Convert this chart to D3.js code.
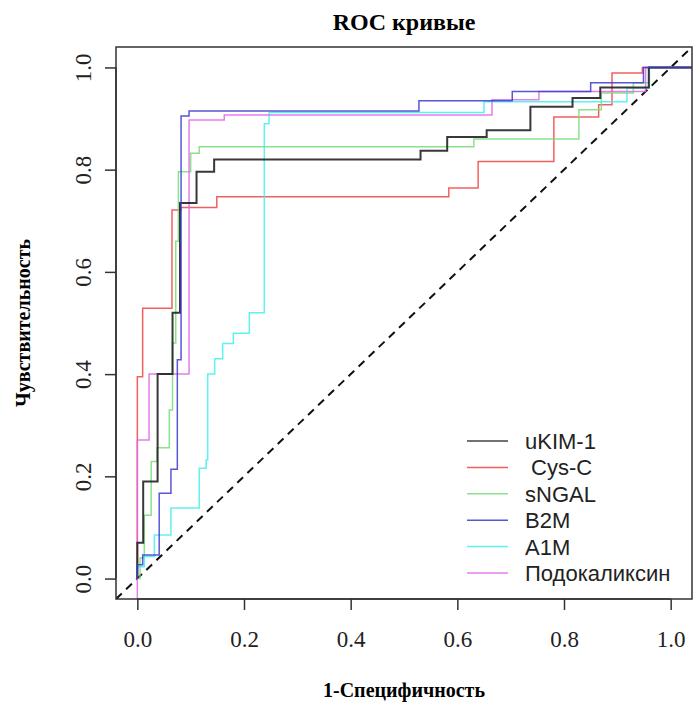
<!DOCTYPE html>
<html>
<head>
<meta charset="utf-8">
<script src="https://cdn.jsdelivr.net/npm/d3@7"></script>
<style>
  body { margin: 0; background: #fff; }
  svg { display: block; }
</style>
</head>
<body>
<svg width="696" height="709"></svg>
<script>
var svg = d3.select("svg"),
    width = 696,
    height = 709,
    box = {left: 116, right: 692, top: 47, bottom: 599};

// series names and colours, in legend order
var names = ["uKIM-1", " Cys-C", "sNGAL", "B2M", "A1M", "Подокаликсин"];
var colors = ["#222222", "#ee4444", "#77dd77", "#3a3ad0", "#44eeee", "#e066e6"];
var widths = [2, 1.5, 1.5, 1.5, 1.5, 1.5];

// ROC points: 1-specificity / sensitivity (corners of the steps)
var fprKIM = [0, 0, 0.011, 0.038, 0.066, 0.08, 0.111, 0.144, 0.531, 0.581, 0.655, 0.737, 0.816, 0.868, 0.959, 1.04];
var tprKIM = [0, 0.07, 0.19, 0.40, 0.52, 0.735, 0.796, 0.82, 0.837, 0.864, 0.877, 0.923, 0.94, 0.961, 1, 1];

var fprCys = [0, 0, 0.01, 0.065, 0.082, 0.149, 0.584, 0.639, 0.781, 0.865, 0.89, 0.947, 1.04];
var tprCys = [0, 0.395, 0.529, 0.721, 0.726, 0.747, 0.764, 0.816, 0.903, 0.927, 0.989, 1, 1];

var fprNGAL = [0, 0.005, 0.013, 0.026, 0.037, 0.06, 0.066, 0.072, 0.077, 0.1, 0.116, 0.631, 0.828, 0.87, 0.93, 0.96, 1.04];
var tprNGAL = [0, 0.04, 0.124, 0.229, 0.256, 0.33, 0.461, 0.66, 0.796, 0.832, 0.845, 0.86, 0.917, 0.95, 0.97, 1, 1];

var fprB2M = [0, 0, 0.01, 0.041, 0.063, 0.075, 0.082, 0.097, 0.528, 0.703, 0.85, 0.949, 1.04];
var tprB2M = [0, 0.027, 0.046, 0.167, 0.214, 0.428, 0.905, 0.915, 0.935, 0.953, 0.97, 1, 1];

var fprA1M = [0, 0, 0.013, 0.032, 0.063, 0.116, 0.129, 0.132, 0.145, 0.16, 0.18, 0.21, 0.238, 0.247, 0.65, 0.918, 0.96, 1.04];
var tprA1M = [0, 0.023, 0.043, 0.085, 0.138, 0.216, 0.232, 0.40, 0.43, 0.46, 0.48, 0.52, 0.89, 0.912, 0.933, 0.96, 1, 1];

var fprPod = [0, 0, 0.022, 0.097, 0.163, 0.665, 0.753, 0.953, 1.04];
var tprPod = [-0.04, 0.271, 0.40, 0.897, 0.907, 0.937, 0.953, 1, 1];

var fprs = [fprKIM, fprCys, fprNGAL, fprB2M, fprA1M, fprPod];
var tprs = [tprKIM, tprCys, tprNGAL, tprB2M, tprA1M, tprPod];

var ticks = [0, 0.2, 0.4, 0.6, 0.8, 1.0];

var serif = "Liberation Serif, Times New Roman, serif";

// R style: range padded by 4% on each side
var x = d3.scaleLinear().domain([-0.04, 1.04]).range([box.left, box.right]);
var y = d3.scaleLinear().domain([-0.04, 1.04]).range([box.bottom, box.top]);

svg.append("clipPath").attr("id", "clip")
  .append("rect")
    .attr("x", box.left).attr("y", box.top)
    .attr("width", box.right - box.left).attr("height", box.bottom - box.top);

var plot = svg.append("g").attr("clip-path", "url(#clip)");

// chance diagonal, abline(0,1) across the whole box
plot.append("line")
    .attr("x1", x(-0.04)).attr("y1", y(-0.04))
    .attr("x2", x(1.04)).attr("y2", y(1.04))
    .attr("stroke", "#111")
    .attr("stroke-width", 2)
    .attr("stroke-dasharray", "8,6");

var line = d3.line()
    .x(function(d) { return x(d[0]); })
    .y(function(d) { return y(d[1]); })
    .curve(d3.curveStepAfter);

// coloured ones first, black and blue on top like the picture
var order = [1, 2, 4, 5, 0, 3];
order.forEach(function(i) {
  var pts = d3.zip(fprs[i], tprs[i]);
  plot.append("path")
      .attr("d", line(pts))
      .attr("fill", "none")
      .attr("stroke", colors[i])
      .attr("stroke-width", widths[i])
      .attr("stroke-opacity", i == 0 ? 0.9 : 0.85);
});

// box
svg.append("rect")
    .attr("x", box.left).attr("y", box.top)
    .attr("width", box.right - box.left).attr("height", box.bottom - box.top)
    .attr("fill", "none")
    .attr("stroke", "#333")
    .attr("stroke-width", 1.5);

// axes
var xAxis = d3.axisBottom(x).tickValues(ticks).tickFormat(d3.format(".1f")).tickSize(11).tickPadding(21);
var yAxis = d3.axisLeft(y).tickValues(ticks).tickFormat(d3.format(".1f")).tickSize(11).tickPadding(0);

var gx = svg.append("g").attr("transform", "translate(0," + box.bottom + ")").call(xAxis);
var gy = svg.append("g").attr("transform", "translate(" + box.left + ",0)").call(yAxis);

[gx, gy].forEach(function(g) {
  g.select(".domain").attr("d", g === gx ?
      "M" + x(0) + ",0H" + x(1) : "M0," + y(0) + "V" + y(1))
    .attr("stroke", "#333").attr("stroke-width", 1.5);
  g.selectAll(".tick line").attr("stroke", "#333").attr("stroke-width", 1.5);
  g.selectAll(".tick text")
      .attr("font-family", serif)
      .attr("font-size", 23)
      .attr("fill", "#222");
});

gy.selectAll(".tick text")
    .attr("x", 0).attr("dy", 0)
    .attr("text-anchor", "middle")
    .attr("transform", "translate(-25,0) rotate(-90)");

// titles
svg.append("text")
    .attr("x", (box.left + box.right) / 2).attr("y", 30)
    .attr("text-anchor", "middle")
    .attr("font-family", serif)
    .attr("font-weight", "bold").attr("font-size", 24)
    .text("ROC кривые");

svg.append("text")
    .attr("x", (box.left + box.right) / 2).attr("y", 697)
    .attr("text-anchor", "middle")
    .attr("font-family", serif)
    .attr("font-weight", "bold").attr("font-size", 20)
    .text("1-Специфичность");

svg.append("text")
    .attr("transform", "translate(30," + (box.top + box.bottom) / 2 + ") rotate(-90)")
    .attr("text-anchor", "middle")
    .attr("font-family", serif)
    .attr("font-weight", "bold").attr("font-size", 20)
    .text("Чувствительность");

// legend
var leg = svg.append("g").attr("transform", "translate(467,441)");
names.forEach(function(n, i) {
  var row = leg.append("g").attr("transform", "translate(0," + i * 26.4 + ")");
  row.append("line")
      .attr("x1", 0).attr("x2", 41)
      .attr("stroke", colors[i]).attr("stroke-width", 1.5).attr("stroke-opacity", 0.85);
  row.append("text")
      .attr("x", 58).attr("dy", "0.36em")
      .attr("font-family", "Liberation Sans, Arial, sans-serif")
      .attr("font-size", 22)
      .attr("fill", "#222")
      .attr("xml:space", "preserve")
      .style("white-space", "pre")
      .text(n);
});
</script>
</body>
</html>
